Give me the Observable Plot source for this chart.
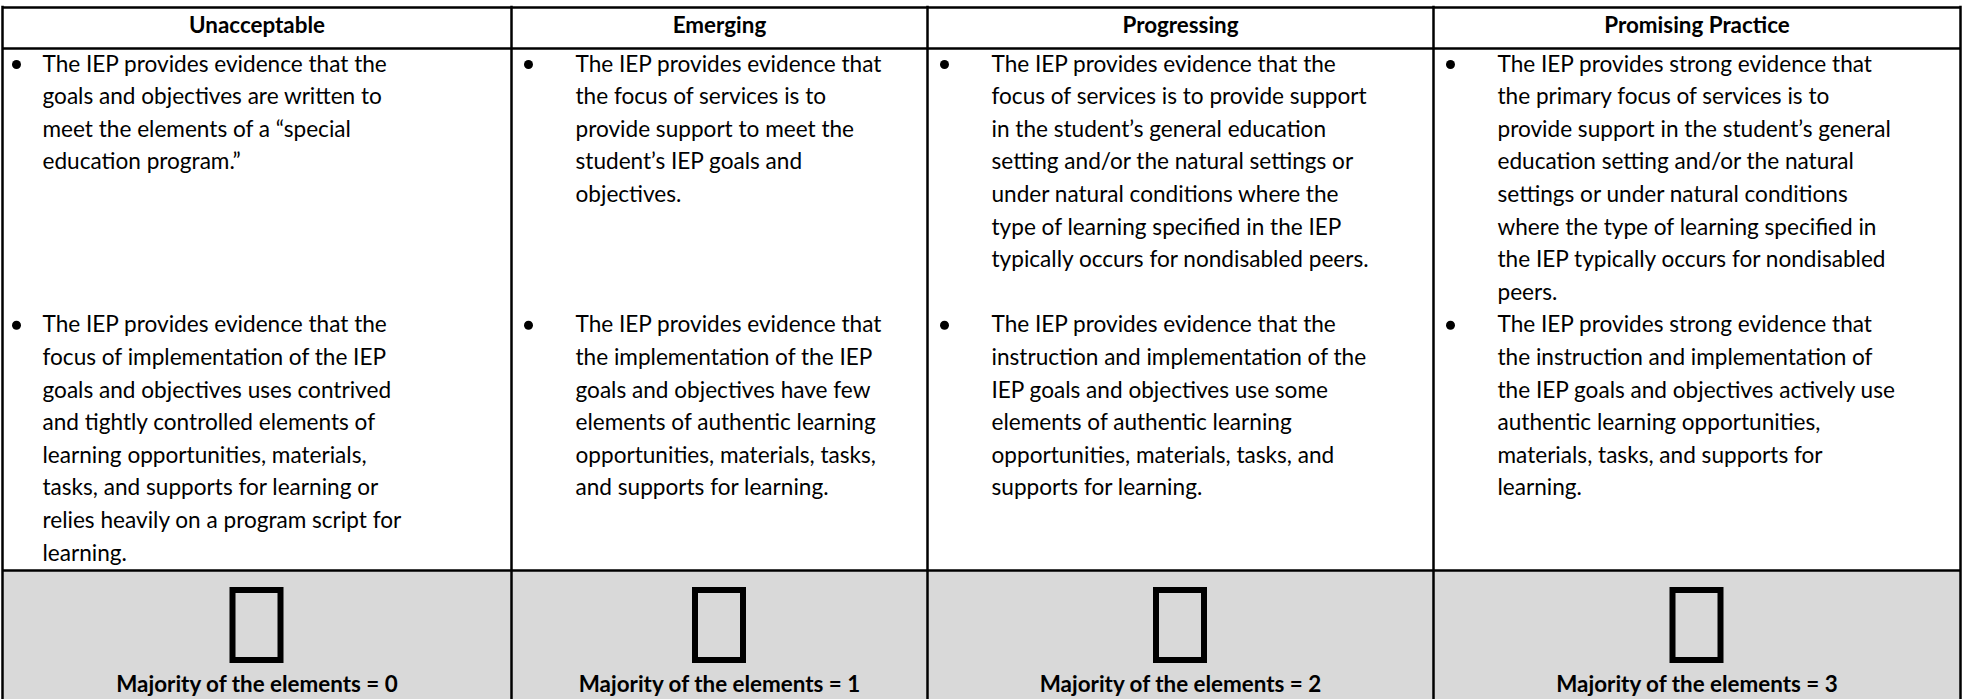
<!DOCTYPE html>
<html>
<head>
<meta charset="utf-8">
<script src="https://cdn.jsdelivr.net/npm/d3@7"></script>
<script src="https://cdn.jsdelivr.net/npm/@observablehq/plot@0.6"></script>
<style>
  html, body { margin: 0; padding: 0; background: #ffffff; overflow: hidden; }
  #chart svg { display: block; }
</style>
</head>
<body>
<div id="chart"></div>
<script>
// ---------- DATA ----------
const columns = ["Unacceptable", "Emerging", "Progressing", "Promising Practice"];

const row1Unacceptable = [
  "The IEP provides evidence that the",
  "goals and objectives are written to",
  "meet the elements of a \u201Cspecial",
  "education program.\u201D"
];
const row1Emerging = [
  "The IEP provides evidence that",
  "the focus of services is to",
  "provide support to meet the",
  "student\u2019s IEP goals and",
  "objectives."
];
const row1Progressing = [
  "The IEP provides evidence that the",
  "focus of services is to provide support",
  "in the student\u2019s general education",
  "setting and/or the natural settings or",
  "under natural conditions where the",
  "type of learning specified in the IEP",
  "typically occurs for nondisabled peers."
];
const row1Promising = [
  "The IEP provides strong evidence that",
  "the primary focus of services is to",
  "provide support in the student\u2019s general",
  "education setting and/or the natural",
  "settings or under natural conditions",
  "where the type of learning specified in",
  "the IEP typically occurs for nondisabled",
  "peers."
];

const row2Unacceptable = [
  "The IEP provides evidence that the",
  "focus of implementation of the IEP",
  "goals and objectives uses contrived",
  "and tightly controlled elements of",
  "learning opportunities, materials,",
  "tasks, and supports for learning or",
  "relies heavily on a program script for",
  "learning."
];
const row2Emerging = [
  "The IEP provides evidence that",
  "the implementation of the IEP",
  "goals and objectives have few",
  "elements of authentic learning",
  "opportunities, materials, tasks,",
  "and supports for learning."
];
const row2Progressing = [
  "The IEP provides evidence that the",
  "instruction and implementation of the",
  "IEP goals and objectives use some",
  "elements of authentic learning",
  "opportunities, materials, tasks, and",
  "supports for learning."
];
const row2Promising = [
  "The IEP provides strong evidence that",
  "the instruction and implementation of",
  "the IEP goals and objectives actively use",
  "authentic learning opportunities,",
  "materials, tasks, and supports for",
  "learning."
];

const footerLabels = [
  "Majority of the elements = 0",
  "Majority of the elements = 1",
  "Majority of the elements = 2",
  "Majority of the elements = 3"
];

// ---------- LAYOUT (table units) ----------
const W = 1963, H = 699;
const colWidths = [509, 416, 506, 527];
const edges = colWidths.reduce((a, w) => (a.push(a[a.length - 1] + w), a), [0]);
const total = edges[edges.length - 1];
const tableTop = 7, headerBottom = 48, footerTop = 570, bottom = 710;
const headerBaseline = 32;
const firstBaseline = 71, lineStep = 32.6;
const bulletIndent = [14, 17, 17, 17], textIndent = [40, 64, 64, 64];
const boxW = 48, boxH = 70, boxCY = 625;
const footerBaseline = 691;
const bodySize = 22.6, boldSize = 22.4;

const rows = [
  [row1Unacceptable, row1Emerging, row1Progressing, row1Promising],
  [row2Unacceptable, row2Emerging, row2Progressing, row2Promising]
];
const row1Count = Math.max(...rows[0].map(d => d.length));

const lines = [];
const bullets = [];
rows.forEach((row, r) => {
  row.forEach((colLines, c) => {
    const start = r === 0 ? 0 : row1Count;
    colLines.forEach((t, i) => {
      lines.push({c, text: t, y: firstBaseline + (start + i) * lineStep});
    });
    bullets.push({c, y: firstBaseline + start * lineStep - 7});
  });
});

const cells = columns.map((name, c) => ({c, name, label: footerLabels[c]}));
const mid = c => (edges[c] + edges[c + 1]) / 2;

const chart = Plot.plot({
  width: W,
  height: H,
  margin: 0,
  x: {domain: [0, total], range: [2, 1960], axis: null},
  y: {domain: [0, H], range: [0, H], axis: null},
  style: {fontFamily: "Lato, 'Noto Sans', sans-serif", background: "#ffffff", color: "#000"},
  marks: [
    Plot.rect(cells, {
      x1: d => edges[d.c], x2: d => edges[d.c + 1],
      y1: footerTop, y2: bottom, fill: "#d9d9d9"
    }),
    Plot.ruleY([tableTop, headerBottom, footerTop], {x1: 0, x2: total, stroke: "#000", strokeWidth: 2.5}),
    Plot.ruleX(edges, {y1: tableTop - 1.25, y2: bottom, stroke: "#000", strokeWidth: 2.5}),
    Plot.text(cells, {
      x: d => mid(d.c), y: headerBaseline, text: "name",
      fontWeight: "bold", fontSize: boldSize, lineAnchor: "bottom", textAnchor: "middle", fill: "#000"
    }),
    Plot.dot(bullets, {
      x: d => edges[d.c] + bulletIndent[d.c], y: "y", r: 4.5, fill: "#000", stroke: null
    }),
    Plot.text(lines, {
      x: d => edges[d.c] + textIndent[d.c], y: "y", text: "text",
      fontSize: bodySize, lineAnchor: "bottom", textAnchor: "start", fill: "#000"
    }),
    Plot.rect(cells, {
      x1: d => mid(d.c) - boxW / 2, x2: d => mid(d.c) + boxW / 2,
      y1: boxCY - boxH / 2, y2: boxCY + boxH / 2,
      fill: "none", stroke: "#000", strokeWidth: 6
    }),
    Plot.text(cells, {
      x: d => mid(d.c), y: footerBaseline, text: "label",
      fontWeight: "bold", fontSize: boldSize, lineAnchor: "bottom", textAnchor: "middle", fill: "#000"
    })
  ]
});

document.getElementById("chart").appendChild(chart);
</script>
</body>
</html>
